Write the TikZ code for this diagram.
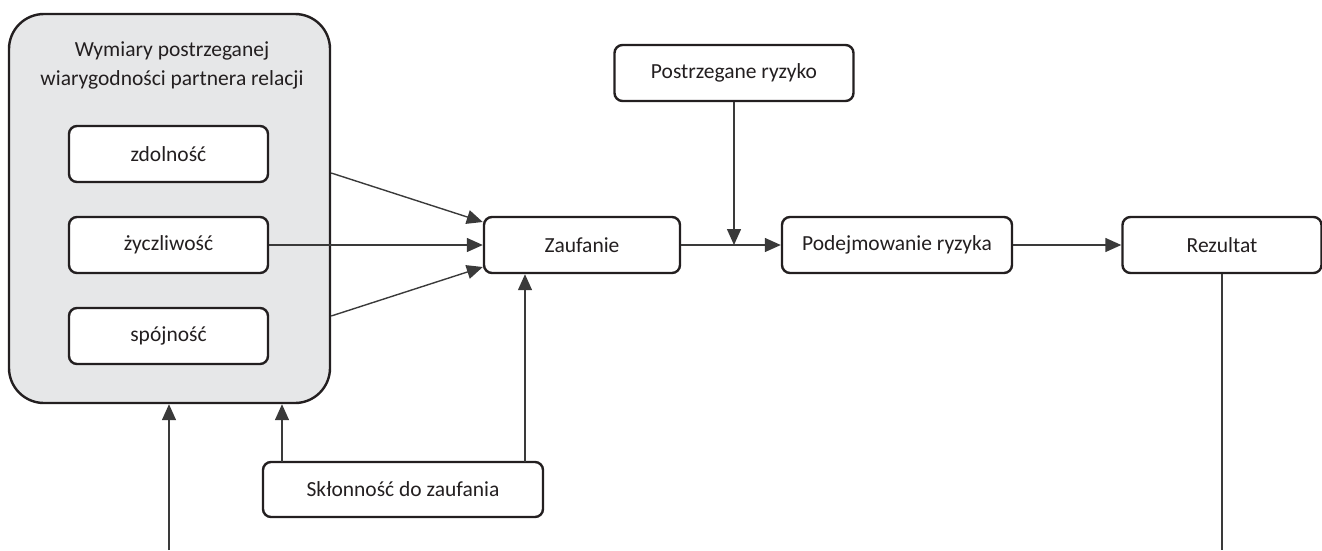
\documentclass[tikz,border=0pt]{standalone}
\usepackage{fontspec}
\setmainfont{Carlito}
\usetikzlibrary{arrows.meta,calc}
\definecolor{boxgray}{HTML}{E6E7E8}
\definecolor{ink}{HTML}{231F20}
\definecolor{linec}{HTML}{3A3A3A}
\begin{document}
\begin{tikzpicture}[x=1pt,y=-1pt,
  box/.style={draw=ink,line width=2.4pt,rounded corners=8pt,fill=white,
    minimum height=56pt,inner sep=0pt,font=\fontsize{21.5}{24}\selectfont,text=ink},
  conn/.style={draw=linec,line width=1.4pt},
  arr/.style={conn,-{Triangle[length=16pt,width=14pt]}}]
\useasboundingbox (0,0) rectangle (1322,550);
% outer box
\node[draw=ink,line width=2.4pt,rounded corners=35pt,fill=boxgray,
  minimum width=321pt,minimum height=389pt,inner sep=0pt] (dims) at (169.5,208.5) {};
\node[align=center,font=\fontsize{21.5}{29}\selectfont,text=ink] (title) at (172,65)
  {Wymiary postrzeganej\\wiarygodności partnera relacji};
\node[box,minimum width=199pt] (zd) at (168.5,154) {zdolność};
\node[box,minimum width=199pt] (zy) at (168.5,245) {życzliwość};
\node[box,minimum width=199pt] (sp) at (168.5,336) {spójność};
\node[box,minimum width=196pt] (zauf) at (582,245) {Zaufanie};
\node[box,minimum width=239pt] (pr) at (734,73) {Postrzegane ryzyko};
\node[box,minimum width=230pt] (pod) at (897,245) {Podejmowanie ryzyka};
\node[box,minimum width=199pt] (rez) at (1222,245) {Rezultat};
\node[box,minimum width=280pt,minimum height=55pt] (skl) at (403,489.5) {Skłonność do zaufania};
% connectors
\coordinate (bl) at (169,550);
\coordinate (br) at (1222,550);
\coordinate (sa) at (282,462);
\coordinate (sz) at (525,462);
\draw[arr] ($(dims.east)+(0,-35.5)$) -- ($(zauf.west)+(0,-23)$);
\draw[arr] (zy.east) -- (zauf.west);
\draw[arr] ($(dims.east)+(0,107.5)$) -- ($(zauf.west)+(0,22)$);
\draw[arr] (zauf.east) -- (pod.west);
\draw[arr] (pr.south) -- (pr.south |- zauf.east);
\draw[arr] (pod.east) -- (rez.west);
\draw[arr] (sz) -- (sz |- zauf.south);
\draw[arr] (sa) -- (sa |- dims.south);
\draw[arr] (bl) -- (bl |- dims.south);
\draw[conn] (rez.south) -- (br);
\end{tikzpicture}
\end{document}
